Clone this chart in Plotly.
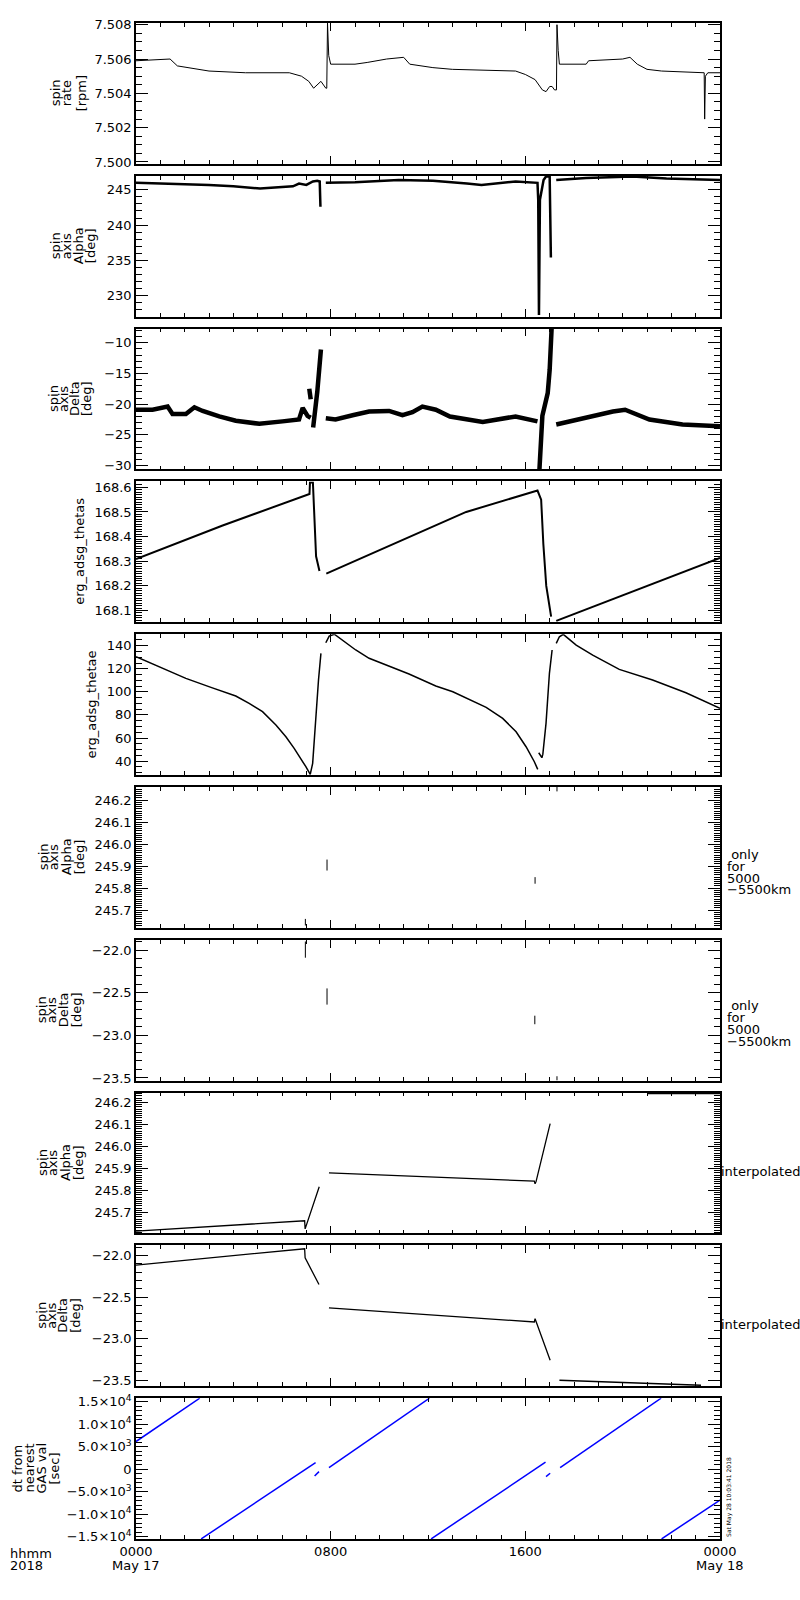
import plotly.graph_objects as go
from plotly.subplots import make_subplots

# ---- data (hour of day, value); None = gap ----
spin_rate = [(0.0, 7.5059), (1.4, 7.5060), (1.7, 7.5056), (2.5, 7.5054), (3.0, 7.5053),
             (4.5, 7.5052), (6.3, 7.5052), (6.8, 7.5050), (7.1, 7.5047), (7.3, 7.5043),
             (7.5, 7.5046), (7.6, 7.5047), (7.8, 7.5043), (7.84, 7.5043), (7.87, 7.5081),
             (7.92, 7.5062), (8.0, 7.5057), (9.0, 7.5057), (9.5, 7.5058), (10.3, 7.5060),
             (11.0, 7.5061), (11.25, 7.5057), (12.2, 7.5055), (13.0, 7.5054), (15.6, 7.5053),
             (16.0, 7.5051), (16.4, 7.5048), (16.7, 7.5042), (16.85, 7.5041), (17.0, 7.5044),
             (17.1, 7.5044), (17.2, 7.5042), (17.28, 7.5042), (17.3, 7.5080), (17.35, 7.5065),
             (17.4, 7.5057), (18.5, 7.5057), (18.6, 7.5059), (20.0, 7.5060), (20.3, 7.5061),
             (20.6, 7.5057), (21.0, 7.5054), (21.6, 7.5053), (23.3, 7.5052), (23.35, 7.5052),
             (23.37, 7.5025), (23.4, 7.5050), (23.5, 7.5052), (24.0, 7.5052)]

axis_alpha = [(0.0, 246.0), (1.5, 245.9), (3.0, 245.7), (4.0, 245.5), (5.1, 245.2),
              (6.45, 245.5), (6.7, 245.9), (7.0, 245.7), (7.27, 246.2), (7.45, 246.3),
              (7.55, 246.2), (7.58, 242.6), None, (7.8, 246.0), (9.0, 246.1), (10.8, 246.4),
              (12.2, 246.3), (13.6, 245.9), (14.2, 245.7), (15.6, 246.2), (16.5, 246.0),
              (16.53, 243.6), (16.56, 227.2), (16.6, 243.6), (16.75, 246.4), (16.85, 246.9),
              (17.0, 246.9), (17.05, 235.4), None, (17.27, 246.4), (18.5, 246.7),
              (20.4, 246.9), (21.8, 246.6), (24.0, 246.4)]

axis_delta = [(0.0, -20.9), (0.68, -20.9), (1.3, -20.4), (1.5, -21.6), (2.05, -21.6),
              (2.4, -20.5), (2.74, -21.1), (3.42, -22.0), (4.1, -22.7), (5.07, -23.2),
              (6.02, -22.8), (6.7, -22.5), (6.85, -20.6), (7.05, -21.9), (7.18, -22.2), None,
              (7.12, -17.5), (7.18, -19.2), None, (7.28, -23.8), (7.45, -18.0), (7.6, -11.1),
              None, (7.8, -22.3), (8.2, -22.5), (8.9, -21.8), (9.58, -21.2), (10.4, -21.1),
              (10.95, -21.8), (11.36, -21.3), (11.77, -20.4), (12.32, -20.9), (12.9, -22.0),
              (14.25, -22.9), (15.6, -22.0), (16.5, -22.8), None,
              (16.58, -30.6), (16.7, -21.9), (16.92, -18.2), (17.0, -14.4), (17.08, -7.7),
              None, (17.27, -23.3), (18.36, -22.3), (19.6, -21.2), (20.1, -20.9),
              (21.1, -22.5), (22.46, -23.3), (24.0, -23.6)]

thetas = [(0.0, 168.309), (3.56, 168.445), (7.13, 168.573), (7.15, 168.62), (7.27, 168.62),
          (7.34, 168.44), (7.40, 168.32), (7.54, 168.26), None, (7.82, 168.25),
          (10.83, 168.38), (13.57, 168.50), (16.5, 168.587), (16.65, 168.55),
          (16.74, 168.37), (16.86, 168.2), (17.06, 168.075), None, (17.27, 168.058),
          (24.0, 168.313)]

thetae = [(0.0, 130.5), (1.03, 121.3), (2.05, 111.7), (3.08, 103.9), (4.1, 96.4),
          (4.65, 90.0), (5.2, 82.8), (5.75, 71.2), (6.16, 61.1), (6.5, 51.0), (6.78, 42.3),
          (6.98, 35.1), (7.12, 29.9), (7.16, 28.5), (7.26, 38.0), (7.39, 81.4), (7.5, 110.3),
          (7.6, 133.4), None, (7.8, 142.6), (7.94, 148.4), (8.15, 150.0), (8.49, 145.0),
          (9.03, 136.3), (9.58, 129.1), (10.27, 123.3), (11.22, 115.5), (12.32, 105.1),
          (13.02, 100.1), (14.39, 86.6), (15.07, 77.0), (15.62, 65.4), (16.03, 52.4),
          (16.37, 39.4), (16.51, 32.8), None, (16.55, 47.2), (16.68, 42.9), (16.72, 46.0),
          (16.85, 72.7), (16.99, 116.1), (17.1, 136.3), None, (17.27, 142.1), (17.4, 147.8),
          (17.56, 149.9), (18.09, 140.6), (18.77, 131.9), (19.86, 119.5), (21.23, 110.3),
          (22.6, 99.2), (24.0, 85.7)]

alpha_only = [(6.96, 245.66), (6.96, 245.63), None, (7.85, 245.93), (7.85, 245.88), None,
              (16.4, 245.85), (16.4, 245.82), None, (17.3, 246.26), (17.3, 246.24)]

delta_only = [(6.96, -21.90), (6.96, -22.09), None, (7.85, -22.45), (7.85, -22.64), None,
              (16.39, -22.77), (16.39, -22.87), None, (17.3, -23.48), (17.3, -23.53)]

alpha_interp = [(0.0, 245.615), (6.93, 245.662), (6.95, 245.625), (7.53, 245.817), None,
                (7.93, 245.88), (10.83, 245.868), (16.37, 245.842), (16.40, 245.83),
                (16.44, 245.84), (17.02, 246.104), None, (21.0, 246.24), (24.0, 246.24)]

delta_interp = [(0.0, -22.116), (6.93, -21.92), (6.95, -22.03), (7.52, -22.35), None,
                (7.93, -22.63), (10.83, -22.69), (16.37, -22.80), (16.40, -22.76),
                (17.02, -23.26), None, (17.4, -23.50), (23.22, -23.56)]

dt_gas = [(0.0, 6160), (2.62, 15800), None, (2.68, -15500), (7.38, 1480), None,
          (7.34, -1500), (7.52, -530), None, (7.93, 360), (12.06, 15800), None,
          (12.13, -15500), (16.83, 1560), None, (16.85, -1650), (17.02, -900), None,
          (17.43, 360), (21.58, 15800), None, (21.6, -15500), (24.0, -6850)]

x_tickvals = [0, 8, 16, 24]
x_ticktext = ["0000", "0800", "1600", "0000"]
dt_tickvals = [-15000, -10000, -5000, 0, 5000, 10000, 15000]
dt_ticktext = ["\u22121.5\u00d710<sup>4</sup>", "\u22121.0\u00d710<sup>4</sup>",
               "\u22125.0\u00d710<sup>3</sup>", "0", "5.0\u00d710<sup>3</sup>",
               "1.0\u00d710<sup>4</sup>", "1.5\u00d710<sup>4</sup>"]

# panel settings: data, y range, major dtick, minor dtick, tick format, title lines, line x px, width, colour
panels = [
    (spin_rate, [7.4999, 7.5081], 0.002, 0.0005, ".3f", ["spin", "rate", "[rpm]"], [55, 66, 81], 1, "black"),
    (axis_alpha, [227.0, 247.0], 5, 1, "d", ["spin", "axis", "Alpha", "[deg]"], [55, 66, 78, 90], 2.5, "black"),
    (axis_delta, [-30.6, -7.7], 5, 1, "d", ["spin", "axis", "Delta", "[deg]"], [54, 64, 75, 87], 4.5, "black"),
    (thetas, [168.053, 168.624], 0.1, 0.01, ".1f", ["erg_adsg_thetas"], [80], 2, "black"),
    (thetae, [28, 150], 20, 5, "d", ["erg_adsg_thetae"], [92], 1.5, "black"),
    (alpha_only, [245.62, 246.26], 0.1, 0.01, ".1f", ["spin", "axis", "Alpha", "[deg]"], [43, 53, 66, 79], 1, "black"),
    (delta_only, [-23.53, -21.88], 0.5, 0.1, ".1f", ["spin", "axis", "Delta", "[deg]"], [41, 51, 63, 76], 1, "black"),
    (alpha_interp, [245.605, 246.245], 0.1, 0.01, ".1f", ["spin", "axis", "Alpha", "[deg]"], [43, 53, 66, 79], 1.3, "black"),
    (delta_interp, [-23.57, -21.88], 0.5, 0.1, ".1f", ["spin", "axis", "Delta", "[deg]"], [42, 52, 63, 76], 1.3, "black"),
    (dt_gas, [-15500, 15800], 5000, 1000, "", ["dt from", "nearest", "GAS val", "[sec]"], [18, 30, 42, 55], 1.5, "#0000ff"),
]

W, H = 800, 1600
L, R, T, B = 136, 80, 23, 61
plot_h = H - T - B
FONT = "DejaVu Sans"
FS = 13

fig = make_subplots(rows=10, cols=1, shared_xaxes=True, vertical_spacing=0.005)

annotations = []
for i, (pts, yr, dt, mdt, fmt, title, tx, lw, col) in enumerate(panels):
    row = i + 1
    xs = [p[0] if p else None for p in pts]
    ys = [p[1] if p else None for p in pts]
    fig.add_trace(go.Scatter(x=xs, y=ys, mode="lines", line=dict(color=col, width=lw),
                             connectgaps=False, hoverinfo="skip"), row=row, col=1)

    top_px = 23 + i * 152.8
    bot_px = min(top_px + 140.7, H - B)
    dom = [max(0.0, (H - B - bot_px) / plot_h), min(1.0, (H - B - top_px) / plot_h)]
    yname = "yaxis" if row == 1 else f"yaxis{row}"
    ycfg = dict(domain=dom, range=yr, showline=True, linecolor="black", linewidth=1.5,
                mirror="ticks", ticks="inside", ticklen=12, tickcolor="black",
                showgrid=False, zeroline=False, dtick=dt, automargin=False,
                tickfont=dict(family=FONT, size=FS, color="black"),
                minor=dict(ticks="inside", ticklen=6, dtick=mdt, tickcolor="black", showgrid=False))
    if fmt == "":
        ycfg.update(tickmode="array", tickvals=dt_tickvals, ticktext=dt_ticktext)
    elif fmt != "d":
        ycfg["tickformat"] = fmt
    fig.update_layout({yname: ycfg})

    for line, px in zip(title, tx):
        annotations.append(dict(text=line, xref="paper", x=0, xshift=px - L, xanchor="center",
                                yref=f"y{'' if row == 1 else row} domain", y=0.5, yanchor="middle",
                                textangle=-90, showarrow=False,
                                font=dict(family=FONT, size=FS, color="black")))

fig.update_xaxes(range=[0, 24], showline=True, linecolor="black", linewidth=1.5, mirror="ticks",
                 ticks="inside", ticklen=8, tickcolor="black", showgrid=False, zeroline=False,
                 tickmode="array", tickvals=x_tickvals, ticktext=x_ticktext, automargin=False,
                 tickfont=dict(family=FONT, size=FS, color="black"),
                 minor=dict(ticks="inside", ticklen=4, dtick=1, tickcolor="black", showgrid=False))


def side_text(lines, yref, y0, spacing, xpx):
    for k, s in enumerate(lines):
        annotations.append(dict(text=s, xref="paper", x=1, xshift=xpx, xanchor="left",
                                yref=yref, y=y0, yshift=-k * spacing, yanchor="middle",
                                showarrow=False, font=dict(family=FONT, size=FS, color="black")))


only_lines = ["\u00a0only", "for", "5000", "\u22125500km"]
side_text(only_lines, "y6 domain", 0.52, 11.8, 5)
side_text(only_lines, "y7 domain", 0.53, 11.8, 5)
side_text(["interpolated"], "y8 domain", 0.44, 0, -1)
side_text(["interpolated"], "y9 domain", 0.44, 0, -1)

for s, ys in (("hhmm", -14), ("2018", -26)):
    annotations.append(dict(text=s, xref="paper", x=0, xshift=8 - L, xanchor="left",
                            yref="paper", y=0, yshift=ys, yanchor="middle", showarrow=False,
                            font=dict(family=FONT, size=FS, color="black")))
for s, xv in (("May 17", 0), ("May 18", 24)):
    annotations.append(dict(text=s, xref="x10", x=xv, xanchor="center", yref="paper", y=0,
                            yshift=-26, yanchor="middle", showarrow=False,
                            font=dict(family=FONT, size=FS, color="black")))

annotations.append(dict(text="Sat May 28 10:03:41 2018", xref="paper", x=1, xshift=9,
                        xanchor="center", yref="y10 domain", y=0, yanchor="bottom",
                        textangle=-90, showarrow=False,
                        font=dict(family=FONT, size=6, color="black")))

fig.update_layout(width=W, height=H, margin=dict(l=L, r=R, t=T, b=B, autoexpand=False),
                  paper_bgcolor="white", plot_bgcolor="white", showlegend=False,
                  annotations=annotations, font=dict(family=FONT, size=FS, color="black"))

fig.write_html("out.html", config={"displayModeBar": False},
               post_script="document.body.style.margin='0';document.body.style.overflow='hidden';")
